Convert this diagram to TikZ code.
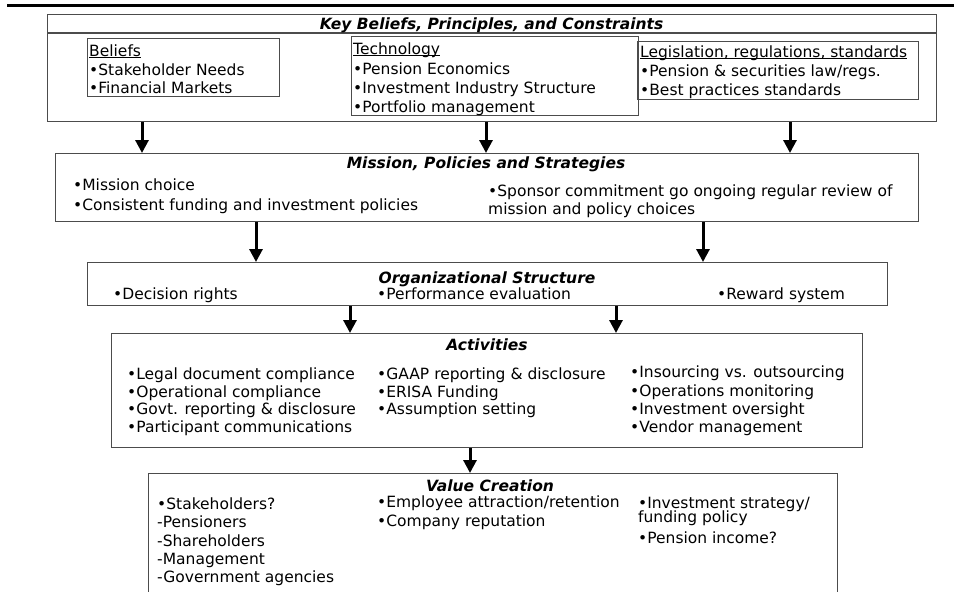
\documentclass[tikz,border=0pt]{standalone}
\usepackage{fontspec}
\setmainfont{DejaVu Sans}
\usetikzlibrary{arrows.meta}

% underlined heading with a fixed rule depth
\newcommand{\ulhead}[1]{\setbox0\hbox{#1}\rlap{\rule[-2.4pt]{\wd0}{1.1pt}}\box0}

\tikzset{
  box/.style={draw=black!70, line width=1.3pt, inner sep=0pt, anchor=north west},
  item/.style={anchor=base west, inner sep=0pt, font=\fontsize{15.5}{18}\selectfont},
  head/.style={anchor=base, inner sep=0pt, font=\fontsize{15.5}{18}\selectfont\bfseries\itshape},
  flow/.style={line width=3pt, -{Triangle[width=13pt,length=13pt]}}
}

\begin{document}
\begin{tikzpicture}[x=1pt, y=-1pt]
  \useasboundingbox (0,0) rectangle (954,592);
  \draw [line width=3pt] (7,5) -- (954,5);

  % boxes
  \node (key) [box, minimum width=889pt, minimum height=107pt] at (47,14) {};
  \draw [box] (key.north west) ++(0,19) -- ++(889,0);
  \node (bel) [box, minimum width=192pt, minimum height=58pt] at (87,38) {};
  \node (tech) [box, minimum width=287pt, minimum height=79pt] at (351,36) {};
  \node (leg) [box, minimum width=281pt, minimum height=58pt] at (637,41) {};
  \node (mission) [box, minimum width=863pt, minimum height=68pt] at (55,153) {};
  \node (org) [box, minimum width=800pt, minimum height=43pt] at (87,262) {};
  \node (act) [box, minimum width=751pt, minimum height=114pt] at (111,333) {};
  \node (value) [box, minimum width=689pt, minimum height=140pt] at (148,473) {};

  % titles
  \node (keyT) [head] at (491.5,29) {Key Beliefs, Principles, and Constraints};
  \node (missionT) [head] at (486,168) {Mission, Policies and Strategies};
  \node (orgT) [head] at (487,283) {Organizational Structure};
  \node (actT) [head] at (487,350) {Activities};
  \node (valueT) [head] at (490,491) {Value Creation};

  % key beliefs
  \node (bel0) [item] at (89,56) {\ulhead{Beliefs}};
  \node (bel1) [item] at (89,75) {•Stakeholder Needs};
  \node (bel2) [item] at (89,93) {•Financial Markets};
  \node (tech0) [item] at (353,54) {\ulhead{Technology}};
  \node (tech1) [item] at (353,74) {•Pension Economics};
  \node (tech2) [item] at (353,93) {•Investment Industry Structure};
  \node (tech3) [item] at (353,112) {•Portfolio management};
  \node (leg0) [item] at (640,57) {\ulhead{Legislation, regulations, standards}};
  \node (leg1) [item] at (640,76) {•Pension \& securities law/regs.};
  \node (leg2) [item] at (640,95) {•Best practices standards};

  % mission
  \node (mis1) [item] at (73,190) {•Mission choice};
  \node (mis2) [item] at (73,210) {•Consistent funding and investment policies};
  \node (mis3) [item] at (488,196) {•Sponsor commitment go ongoing regular review of};
  \node (mis4) [item] at (488,214) {mission and policy choices};

  % organization
  \node (org1) [item] at (113,299) {•Decision rights};
  \node (org2) [item] at (377,299) {•Performance evaluation};
  \node (org3) [item] at (717,299) {•Reward system};

  % activities
  \node (act1) [item] at (127,379) {•Legal document compliance};
  \node (act2) [item] at (127,397) {•Operational compliance};
  \node (act3) [item] at (127,414) {•Govt. reporting \& disclosure};
  \node (act4) [item] at (127,432) {•Participant communications};
  \node (act5) [item] at (377,379) {•GAAP reporting \& disclosure};
  \node (act6) [item] at (377,397) {•ERISA Funding};
  \node (act7) [item] at (377,414) {•Assumption setting};
  \node (act8) [item] at (630,377) {•Insourcing vs. outsourcing};
  \node (act9) [item] at (630,396) {•Operations monitoring};
  \node (act10) [item] at (630,414) {•Investment oversight};
  \node (act11) [item] at (630,432) {•Vendor management};

  % value creation
  \node (val1) [item] at (157,509) {•Stakeholders?};
  \node (val2) [item] at (157,527) {-Pensioners};
  \node (val3) [item] at (157,546) {-Shareholders};
  \node (val4) [item] at (157,564) {-Management};
  \node (val5) [item] at (157,582) {-Government agencies};
  \node (val6) [item] at (377,507) {•Employee attraction/retention};
  \node (val7) [item] at (377,526) {•Company reputation};
  \node (val8) [item] at (638,508) {•Investment strategy/};
  \node (val9) [item] at (638,522) {funding policy};
  \node (val10) [item] at (638,543) {•Pension income?};

  % arrows
  \coordinate (a1) at (142,0);
  \coordinate (a2) at (486,0);
  \coordinate (a3) at (790,0);
  \coordinate (a4) at (256,0);
  \coordinate (a5) at (703,0);
  \coordinate (a6) at (350,0);
  \coordinate (a7) at (616,0);
  \coordinate (a8) at (470,0);
  \draw [flow] (a1 |- key.south) -- (a1 |- mission.north);
  \draw [flow] (a2 |- key.south) -- (a2 |- mission.north);
  \draw [flow] (a3 |- key.south) -- (a3 |- mission.north);
  \draw [flow] (a4 |- mission.south) -- (a4 |- org.north);
  \draw [flow] (a5 |- mission.south) -- (a5 |- org.north);
  \draw [flow] (a6 |- org.south) -- (a6 |- act.north);
  \draw [flow] (a7 |- org.south) -- (a7 |- act.north);
  \draw [flow] (a8 |- act.south) -- (a8 |- value.north);
\end{tikzpicture}
\end{document}
